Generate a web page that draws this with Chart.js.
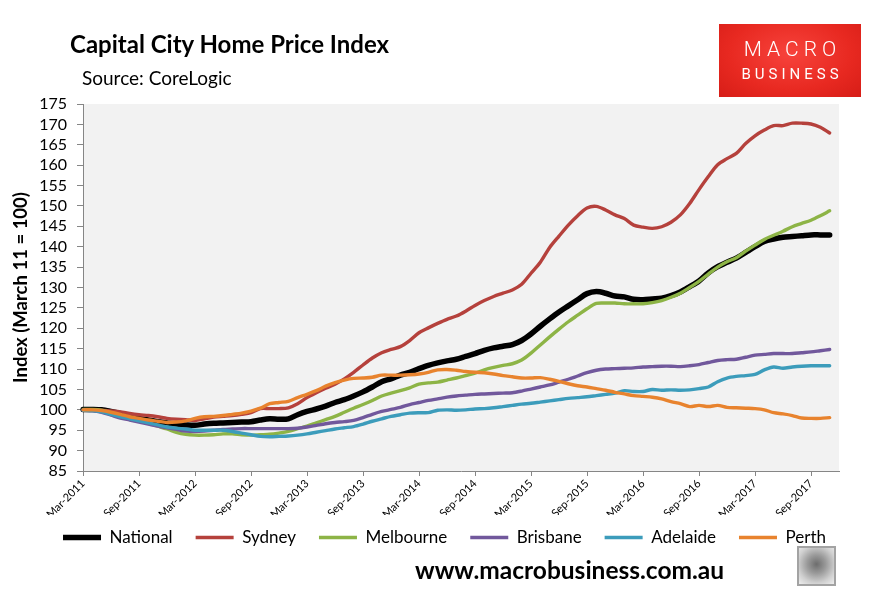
<!DOCTYPE html>
<html>
<head>
<meta charset="utf-8">
<script src="https://cdn.jsdelivr.net/npm/chart.js@4.4.0/dist/chart.umd.min.js"></script>
<style>
  body { margin: 0; background: #fff; }
  #wrap { position: relative; width: 876px; height: 601px; overflow: hidden; font-family: Lato, sans-serif; color: #000; }
  #chart { position: absolute; left: 0; top: 0; }
  .title { position: absolute; left: 70px; top: 32px; font-size: 24px; font-weight: bold; line-height: 1; white-space: nowrap; }
  .source { position: absolute; left: 82px; top: 68px; font-size: 19px; line-height: 1; white-space: nowrap; }
  .logo { position: absolute; left: 719px; top: 24px; width: 142px; height: 73px;
          background: radial-gradient(ellipse at 50% 40%, #f7433c 0%, #e82921 60%, #d61d17 100%); color: #fff; font-family: Roboto, sans-serif; }
  .logo .m { position: absolute; left: 0; width: 142px; top: 15px; font-size: 21px; line-height: 1; text-align: center; letter-spacing: 5px; padding-left: 5px; box-sizing: border-box; font-weight: 300; }
  .logo .b { position: absolute; left: 0; width: 142px; top: 43px; font-size: 15px; line-height: 1; text-align: center; letter-spacing: 4px; padding-left: 4px; box-sizing: border-box; }
  .web { position: absolute; left: 415px; top: 558px; font-size: 24.5px; font-weight: bold; line-height: 1; white-space: nowrap; }
  .fox { position: absolute; left: 797px; top: 546px; width: 35px; height: 36px; border: 2px solid #a3a3a3;
         background: radial-gradient(circle at 50% 45%, #6d6d6d 0%, #9a9a9a 35%, #cfcfcf 70%, #eeeeee 100%); }
</style>
</head>
<body>
<div id="wrap">
  <canvas id="chart" width="876" height="601"></canvas>
  <div class="title">Capital City Home Price Index</div>
  <div class="source">Source: CoreLogic</div>
  <div class="logo"><div class="m">MACRO</div><div class="b">BUSINESS</div></div>
  <div class="web">www.macrobusiness.com.au</div>
  <div class="fox"></div>
</div>
<script>
// monthly categories, Mar-2011 .. Dec-2017 (last one has no data)
const monthNames = ['Jan','Feb','Mar','Apr','May','Jun','Jul','Aug','Sep','Oct','Nov','Dec'];
const months = [];
for (let i = 0; i < 82; i++) {
  months.push(monthNames[(2 + i) % 12] + '-' + (2011 + Math.floor((2 + i) / 12)));
}
const shownTicks = ['Mar-2011','Sep-2011','Mar-2012','Sep-2012','Mar-2013','Sep-2013','Mar-2014',
  'Sep-2014','Mar-2015','Sep-2015','Mar-2016','Sep-2016','Mar-2017','Sep-2017'];

const seriesNames = ['National','Sydney','Melbourne','Brisbane','Adelaide','Perth'];

const national = [100.1,100.1,100.0,99.6,99.1,98.5,97.9,97.5,97.1,96.8,
  96.5,96.3,96.2,96.5,96.7,96.8,96.9,97.0,97.1,97.5,
  97.8,97.7,97.8,98.8,99.6,100.2,100.9,101.8,102.5,103.4,
  104.4,105.6,106.9,107.6,108.5,109.2,110.1,110.9,111.5,112.0,
  112.4,113.1,113.8,114.6,115.2,115.6,116.0,117.0,118.6,120.5,
  122.3,124.0,125.5,127.0,128.5,129.0,128.6,127.9,127.7,127.1,
  127.0,127.2,127.4,128.0,128.9,130.2,131.6,133.6,135.1,136.2,
  137.2,138.6,140.0,141.3,141.9,142.3,142.5,142.7,142.9,142.9,
  142.9];
const sydney = [100.0,100.0,99.9,99.7,99.5,99.1,98.8,98.6,98.3,97.9,
  97.7,97.6,97.4,97.8,98.2,98.4,98.6,98.9,99.3,100.3,
  100.3,100.3,100.5,101.5,103.0,104.2,105.3,106.3,107.6,109.2,
  111.0,112.7,114.0,114.8,115.5,117.0,118.9,120.1,121.2,122.2,
  123.0,124.2,125.6,126.8,127.8,128.6,129.4,130.8,133.5,136.2,
  139.8,142.6,145.3,147.6,149.5,149.9,149.0,147.8,146.9,145.3,
  144.8,144.5,144.9,146.0,147.8,150.6,154.0,157.2,160.1,161.6,
  162.9,165.3,167.2,168.6,169.7,169.7,170.3,170.3,170.1,169.3,
  167.9];
const melbourne = [100.1,100.1,99.9,99.3,98.6,97.9,97.4,96.7,96.0,95.3,
  94.5,94.0,93.8,93.8,93.9,94.1,94.1,93.9,93.8,93.9,
  94.0,94.3,94.7,95.4,96.0,96.8,97.6,98.4,99.4,100.4,
  101.3,102.3,103.4,104.1,104.7,105.4,106.3,106.6,106.8,107.3,
  107.8,108.4,109.0,109.8,110.4,110.9,111.3,112.2,113.9,115.9,
  117.9,119.8,121.6,123.2,124.8,126.1,126.2,126.2,126.0,126.0,
  126.0,126.3,126.8,127.6,128.6,130.0,131.5,133.3,135.0,136.3,
  137.3,138.9,140.4,141.8,142.8,143.8,144.9,145.7,146.5,147.6,
  148.8];
const brisbane = [99.9,99.8,99.4,98.7,98.0,97.5,97.0,96.5,96.0,95.6,
  95.2,94.8,94.7,94.8,95.0,95.2,95.3,95.4,95.4,95.4,
  95.4,95.4,95.4,95.5,95.8,96.2,96.6,96.9,97.1,97.4,
  98.1,98.9,99.6,100.1,100.6,101.3,101.8,102.3,102.7,103.1,
  103.4,103.6,103.8,103.9,104.0,104.1,104.2,104.6,105.1,105.6,
  106.1,106.8,107.5,108.3,109.1,109.7,110.0,110.1,110.2,110.3,
  110.5,110.6,110.7,110.7,110.6,110.8,111.1,111.6,112.1,112.3,
  112.4,112.9,113.4,113.6,113.8,113.8,113.8,114.0,114.2,114.5,
  114.8];
const adelaide = [99.9,99.8,99.5,98.9,98.3,97.8,97.3,96.8,96.3,95.8,
  95.5,95.3,95.0,95.0,95.0,95.0,94.7,94.3,93.9,93.5,
  93.4,93.5,93.6,93.8,94.1,94.5,94.9,95.3,95.6,95.9,
  96.5,97.2,97.8,98.4,98.8,99.2,99.3,99.3,99.9,100.0,
  99.9,100.0,100.2,100.3,100.5,100.8,101.1,101.4,101.6,101.9,
  102.2,102.5,102.8,103.0,103.2,103.5,103.8,104.1,104.7,104.5,
  104.5,105.0,104.8,104.9,104.8,104.9,105.2,105.6,106.9,107.8,
  108.2,108.4,108.7,109.8,110.5,110.2,110.5,110.7,110.8,110.8,
  110.8];
const perth = [100.0,100.0,99.8,99.4,98.9,98.3,97.9,97.5,97.2,96.9,
  97.0,97.3,97.9,98.3,98.4,98.6,98.9,99.2,99.7,100.4,
  101.5,101.8,102.1,103.0,103.8,104.7,105.8,106.7,107.3,107.7,
  107.8,108.0,108.5,108.5,108.5,108.6,108.8,109.2,109.8,109.9,
  109.7,109.4,109.2,109.1,108.8,108.4,108.1,107.8,107.8,107.9,
  107.5,107.0,106.4,105.9,105.6,105.2,104.8,104.3,103.9,103.5,
  103.3,103.1,102.7,102.0,101.5,100.8,101.1,100.8,101.1,100.6,
  100.5,100.4,100.3,100.0,99.3,99.0,98.6,98.0,97.9,97.9,
  98.1];

const seriesData = [national, sydney, melbourne, brisbane, adelaide, perth];
const seriesColors = ['#000000','#b5413c','#8db446','#71589c','#3c9cbb','#e8832e'];
const seriesWidths = [5.5, 3.4, 3.4, 3.4, 3.4, 3.4];

const plotBg = {
  id: 'plotBg',
  beforeDraw(chart) {
    const { ctx, chartArea: a } = chart;
    ctx.save();
    ctx.fillStyle = '#f2f2f2';
    ctx.fillRect(a.left, a.top, a.right - a.left, a.bottom - a.top);
    ctx.restore();
  }
};

// legend sits a bit higher and further right than chart.js would put it
const legendShift = {
  id: 'legendShift',
  afterLayout(chart) {
    const l = chart.legend;
    l.top -= 9; l.bottom -= 9;
    l.left += 20; l.right += 20;
  }
};

const datasets = seriesNames.map((name, i) => ({
  label: name,
  data: seriesData[i],
  borderColor: seriesColors[i],
  backgroundColor: seriesColors[i],
  borderWidth: seriesWidths[i],
  borderCapStyle: 'round',
  borderJoinStyle: 'round',
  pointRadius: 0,
  tension: 0.3,
  fill: false,
  order: seriesNames.length - i
}));

new Chart(document.getElementById('chart'), {
  type: 'line',
  data: { labels: months, datasets: datasets },
  options: {
    responsive: false,
    animation: false,
    layout: { padding: { left: 10, right: 37, top: 104, bottom: 36 } },
    plugins: {
      tooltip: { enabled: false },
      legend: {
        position: 'bottom',
        align: 'center',
        labels: {
          usePointStyle: true,
          pointStyle: 'line',
          pointStyleWidth: 38,
          padding: 23,
          color: '#000',
          font: { family: 'Lato', size: 17 },
          sort: (a, b) => a.datasetIndex - b.datasetIndex
        }
      }
    },
    scales: {
      x: {
        ticks: {
          autoSkip: false,
          maxRotation: 45,
          minRotation: 45,
          padding: 1,
          color: '#000',
          font: { family: 'Lato', size: 11 },
          callback: (v, i) => shownTicks.includes(months[i]) ? months[i] : ''
        },
        grid: {
          drawOnChartArea: false,
          tickLength: 5,
          color: ctx => shownTicks.includes(months[ctx.index]) ? '#868686' : 'rgba(0,0,0,0)'
        },
        border: { color: '#868686' },
        afterFit(s) { s.height = 44; }
      },
      y: {
        min: 85,
        max: 175,
        ticks: { stepSize: 5, autoSkip: false, padding: 10, color: '#000', font: { family: 'Lato', size: 16 } },
        grid: { drawOnChartArea: false, tickLength: 6, color: '#868686' },
        border: { color: '#868686' },
        title: {
          display: true,
          text: 'Index (March 11 = 100)',
          color: '#000',
          font: { family: 'Lato', size: 18.5, weight: 'bold' },
          padding: { top: 0, bottom: 0 }
        },
        afterFit(s) { s.width = 73; }
      }
    }
  },
  plugins: [plotBg, legendShift]
});
</script>
</body>
</html>
